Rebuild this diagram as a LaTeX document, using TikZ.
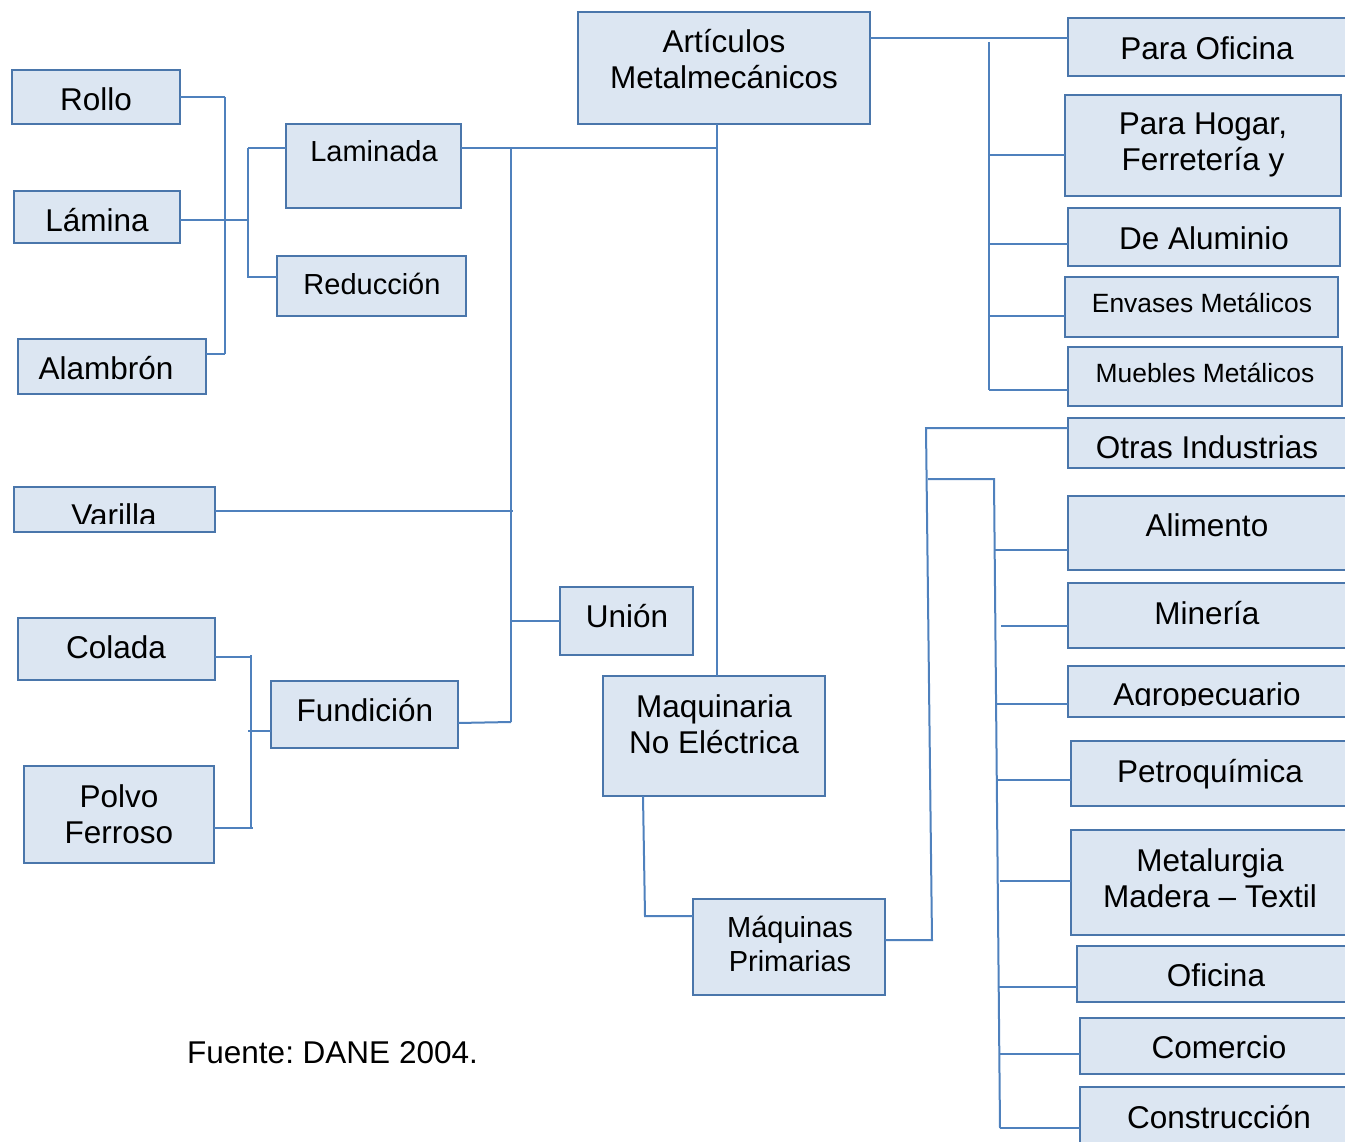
\documentclass[tikz,border=0pt]{standalone}
\usepackage{fontspec}
\setmainfont{Liberation Sans}
\usetikzlibrary{fit}

\definecolor{boxfill}{HTML}{DCE6F2}
\definecolor{boxedge}{HTML}{4A76AB}
\definecolor{linkblue}{HTML}{4F81BD}

\tikzset{
  box/.style={draw=boxedge, fill=boxfill, line width=1.5pt, inner sep=0pt, outer sep=0pt, rectangle},
  link/.style={draw=linkblue, line width=2pt},
  big/.style={font=\fontsize{31.5}{36.5}\selectfont, inner sep=0pt, text height=22.6pt, text depth=0pt},
  mid/.style={font=\fontsize{29}{34}\selectfont, inner sep=0pt, text height=20.8pt, text depth=0pt},
  small/.style={font=\fontsize{26.4}{30}\selectfont, inner sep=0pt, text height=18.9pt, text depth=0pt},
  bigm/.style={font=\fontsize{31.5}{36.5}\selectfont, inner sep=0pt, align=center},
  midm/.style={font=\fontsize{29}{34}\selectfont, inner sep=0pt, align=center},
}

% box from corner (x1,y1) to corner (x2,y2)
\newcommand\mkbox[5]{\node[box, fit={(#2,#3) (#4,#5)}] (#1) {};}
% horizontal connector from a trunk point (x,y) to a box anchor
\newcommand\tobox[3]{\coordinate (j) at (#1,#2); \draw[link] (j) -- (#3 |- j);}

\frenchspacing
\begin{document}
\begin{tikzpicture}[x=1pt, y=-1pt]
\useasboundingbox (0,0) rectangle (1345,1142);
\clip (0,0) rectangle (1345,1142);

% ---------- boxes ----------
\mkbox{articulos}{578}{12}{870}{124}
\mkbox{paraoficina}{1068}{18}{1352}{76}
\mkbox{parahogar}{1065}{95}{1341}{196}
\mkbox{dealuminio}{1068}{208}{1340}{266}
\mkbox{envases}{1065}{277}{1338}{337}
\mkbox{muebles}{1068}{347}{1342}{406}
\mkbox{otras}{1068}{418}{1352}{468}
\mkbox{alimento}{1068}{496}{1352}{570}
\mkbox{mineria}{1068}{583}{1352}{648}
\mkbox{agro}{1068}{666}{1352}{717}
\mkbox{petro}{1071}{741}{1352}{806}
\mkbox{metalurgia}{1071}{830}{1352}{935}
\mkbox{oficina}{1077}{946}{1352}{1002}
\mkbox{comercio}{1080}{1018}{1352}{1074}
\mkbox{construccion}{1080}{1087}{1352}{1150}

\mkbox{rollo}{12}{70}{180}{124}
\mkbox{lamina}{14}{191}{180}{243}
\mkbox{alambron}{18}{339}{206}{394}
\mkbox{laminada}{286}{124}{461}{208}
\mkbox{reduccion}{277}{256}{466}{316}
\mkbox{varilla}{14}{487}{215}{532}
\mkbox{union}{560}{587}{693}{655}
\mkbox{colada}{18}{618}{215}{680}
\mkbox{fundicion}{271}{681}{458}{748}
\mkbox{polvo}{24}{766}{214}{863}
\mkbox{maquinaria}{603}{676}{825}{796}
\mkbox{maquinas}{693}{899}{885}{995}

% ---------- labels ----------
\node[bigm] (articulos-t) at (724,59) {Artículos\\Metalmecánicos};
\node[big] (paraoficina-t) at (1207,48) {Para Oficina};
\node[bigm] (parahogar-t) at (1203,145) {Para Hogar,\\Ferretería y};
\node[big] (dealuminio-t) at (1204,238) {De Aluminio};
\node[small] (envases-t) at (1202,303) {Envases Metálicos};
\node[small] (muebles-t) at (1205,373) {Muebles Metálicos};
\node[big] (otras-t) at (1207,447) {Otras Industrias};
\node[big] (alimento-t) at (1207,525) {Alimento};
\node[big] (mineria-t) at (1207,613) {Minería};
\begin{scope}
  \clip (agro.north west) rectangle ([yshift=12pt]agro.south east);
  \node[big] (agro-t) at (1207,694) {Agropecuario};
\end{scope}
\node[big] (petro-t) at (1210,771) {Petroquímica};
\node[bigm] (metalurgia-t) at (1210,878) {Metalurgia\\Madera -- Textil};
\node[big] (oficina-t) at (1216,975) {Oficina};
\node[big] (comercio-t) at (1219,1047) {Comercio};
\node[big] (construccion-t) at (1219,1117) {Construcción};

\node[big] (rollo-t) at (96,99) {Rollo};
\node[big] (lamina-t) at (97,220) {Lámina};
\node[big] (alambron-t) at (106,368) {Alambrón};
\node[mid] (laminada-t) at (374,151) {Laminada};
\node[mid] (reduccion-t) at (372,284) {Reducción};
\begin{scope}
  \clip (varilla.north west) rectangle ([yshift=9pt]varilla.south east);
  \node[big] (varilla-t) at (114,515) {Varilla};
\end{scope}
\node[big] (union-t) at (627,616) {Unión};
\node[big] (colada-t) at (116,647) {Colada};
\node[big] (fundicion-t) at (365,710) {Fundición};
\node[bigm] (polvo-t) at (119,814) {Polvo\\Ferroso};
\node[bigm] (maquinaria-t) at (714,724) {Maquinaria\\No Eléctrica};
\node[midm] (maquinas-t) at (790,944) {Máquinas\\Primarias};

\node[big, anchor=west] (fuente) at (187,1052) {Fuente: DANE 2004.};

% ---------- connectors ----------
% Artículos Metalmecánicos to its groups
\coordinate (j) at (0,38);
\draw[link] (articulos.east |- j) -- (paraoficina.west |- j);
\coordinate (ur1) at (989,42);
\coordinate (ur2) at (989,390);
\draw[link] (ur1) -- (ur2);
\tobox{989}{155}{parahogar.west}
\tobox{989}{244}{dealuminio.west}
\tobox{989}{316}{envases.west}
\tobox{989}{390}{muebles.west}

\coordinate (c1) at (717,0);
\draw[link] (articulos.south -| c1) -- (maquinaria.north -| c1);
\coordinate (j) at (0,148);
\draw[link] (laminada.east |- j) -- (c1 |- j);

% vertical bus of the basic products
\coordinate (v1) at (511,148);
\coordinate (v2) at (511,722);
\draw[link] (v1) -- (v2);
\coordinate (j) at (513,511);
\draw[link] (varilla.east |- j) -- (j);
\tobox{511}{621}{union.west}
\coordinate (j) at (511,722);
\draw[link] ([yshift=-8.5pt]fundicion.east) -- (j);

% Laminada / Reducción
\coordinate (l1) at (248,148);
\coordinate (l2) at (248,278);
\draw[link] (l1) -- (l2);
\tobox{248}{148}{laminada.west}
\tobox{248}{277}{reduccion.west}
\coordinate (j) at (248,220);
\draw[link] (lamina.east |- j) -- (j);

% Rollo / Lámina / Alambrón
\coordinate (r1) at (225,97);
\coordinate (r2) at (225,354);
\draw[link] (r1) -- (r2);
\draw[link] (rollo.east |- r1) -- (r1);
\draw[link] (alambron.east |- r2) -- (r2);

% Colada / Polvo Ferroso / Fundición
\coordinate (f1) at (251,655);
\coordinate (f2) at (251,828);
\draw[link] (f1) -- (f2);
\coordinate (j) at (252,657);
\draw[link] (colada.east |- j) -- (j);
\coordinate (j) at (253,828);
\draw[link] (polvo.east |- j) -- (j);
\tobox{248}{731}{fundicion.west}

% Maquinaria No Eléctrica to Máquinas Primarias
\coordinate (m1) at (643,796);
\coordinate (m2) at (645,916);
\draw[link] (maquinaria.south -| m1) -- (m2) -- (maquinas.west |- m2);

% Máquinas Primarias to the industries
\coordinate (k1) at (932,940);
\coordinate (k2) at (926,428);
\draw[link] (maquinas.east |- k1) -- (k1) -- (k2) -- (otras.west |- k2);
\coordinate (k3) at (928,479);
\coordinate (s1) at (994,479);
\coordinate (s2) at (1000,1128);
\draw[link] (k3) -- (s1) -- (s2);
\tobox{994.7}{550}{alimento.west}
\tobox{1001}{626}{mineria.west}
\tobox{996}{704}{agro.west}
\tobox{996.8}{780}{petro.west}
\tobox{1000}{881}{metalurgia.west}
\tobox{998.7}{987}{oficina.west}
\tobox{999.3}{1054}{comercio.west}
\tobox{1000}{1128}{construccion.west}

\end{tikzpicture}
\end{document}
